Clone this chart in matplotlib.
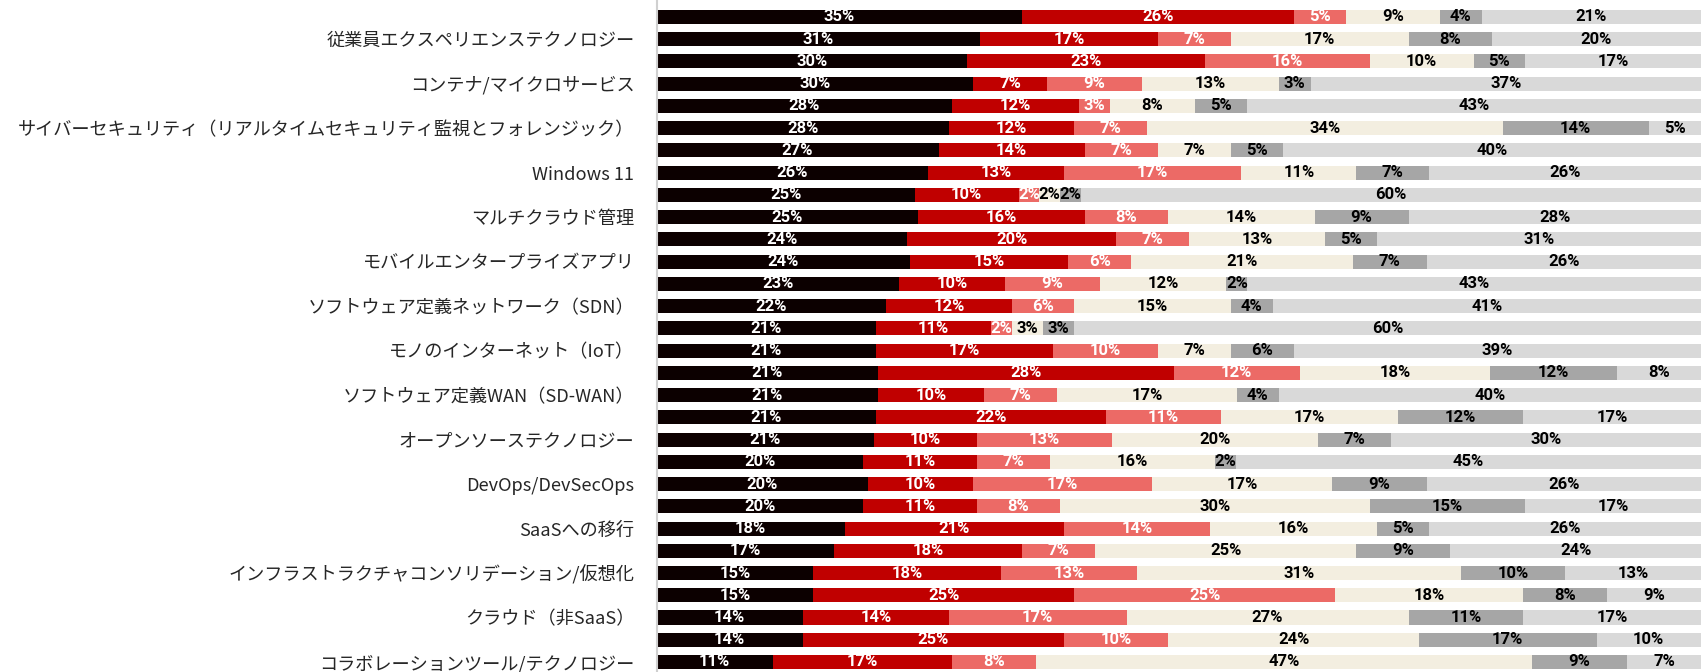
import matplotlib
matplotlib.use("Agg")
import matplotlib.pyplot as plt
import numpy as np

# category labels (only every other bar carries a label in the source chart)
labels = [
    "従業員エクスペリエンステクノロジー",
    "コンテナ/マイクロサービス",
    "サイバーセキュリティ（リアルタイムセキュリティ監視とフォレンジック）",
    "Windows 11",
    "マルチクラウド管理",
    "モバイルエンタープライズアプリ",
    "ソフトウェア定義ネットワーク（SDN）",
    "モノのインターネット（IoT）",
    "ソフトウェア定義WAN（SD-WAN）",
    "オープンソーステクノロジー",
    "DevOps/DevSecOps",
    "SaaSへの移行",
    "インフラストラクチャコンソリデーション/仮想化",
    "クラウド（非SaaS）",
    "コラボレーションツール/テクノロジー",
]

# six response segments per bar, top bar first
seg1 = [35, 31, 30, 30, 28, 28, 27, 26, 25, 25, 24, 24, 23, 22, 21,
        21, 21, 21, 21, 21, 20, 20, 20, 18, 17, 15, 15, 14, 14, 11]
seg2 = [26, 17, 23, 7, 12, 12, 14, 13, 10, 16, 20, 15, 10, 12, 11,
        17, 28, 10, 22, 10, 11, 10, 11, 21, 18, 18, 25, 14, 25, 17]
seg3 = [5, 7, 16, 9, 3, 7, 7, 17, 2, 8, 7, 6, 9, 6, 2,
        10, 12, 7, 11, 13, 7, 17, 8, 14, 7, 13, 25, 17, 10, 8]
seg4 = [9, 17, 10, 13, 8, 34, 7, 11, 2, 14, 13, 21, 12, 15, 3,
        7, 18, 17, 17, 20, 16, 17, 30, 16, 25, 31, 18, 27, 24, 47]
seg5 = [4, 8, 5, 3, 5, 14, 5, 7, 2, 9, 5, 7, 2, 4, 3,
        6, 12, 4, 12, 7, 2, 9, 15, 5, 9, 10, 8, 11, 17, 9]
seg6 = [21, 20, 17, 37, 43, 5, 40, 26, 60, 28, 31, 26, 43, 41, 60,
        39, 8, 40, 17, 30, 45, 26, 17, 26, 24, 13, 9, 17, 10, 7]

colors = ["#0c0000", "#c00000", "#ec6a66", "#f3eee0", "#a6a6a6", "#d9d9d9"]
text_colors = ["white", "white", "white", "black", "black", "black"]

segments = np.array([seg1, seg2, seg3, seg4, seg5, seg6], dtype=float)
# 100% stacked: scale each bar to its total
shares = segments / segments.sum(axis=0) * 100
n = segments.shape[1]
y = np.arange(n)

fig = plt.figure(figsize=(17.01, 6.72), dpi=100)
ax = fig.add_axes([0.386, 0.0, 0.614, 1.0])

left = np.zeros(n)
for k in range(6):
    ax.barh(y, shares[k], left=left, height=0.63, color=colors[k], linewidth=0)
    for i in range(n):
        ax.text(left[i] + shares[k][i] / 2, y[i], f"{int(segments[k][i])}%",
                ha="center", va="center", fontsize=12, fontweight="bold",
                color=text_colors[k],
                family=["Liberation Sans Narrow", "Roboto", "DejaVu Sans"])
    left += shares[k]

ax.set_xlim(0, 100)
ax.set_ylim(29.45, -0.76)
ax.set_xticks([])
ax.set_yticks(y[1::2])
ax.set_yticklabels(labels, family=["Noto Sans CJK JP", "DejaVu Sans"],
                   fontsize=13.1, color="#262626")
ax.tick_params(axis="y", length=0, pad=16)
for s in ["top", "right", "bottom"]:
    ax.spines[s].set_visible(False)
ax.spines["left"].set_color("#d0d0d0")
ax.spines["left"].set_linewidth(1.5)

fig.savefig("out.png", dpi=100)
